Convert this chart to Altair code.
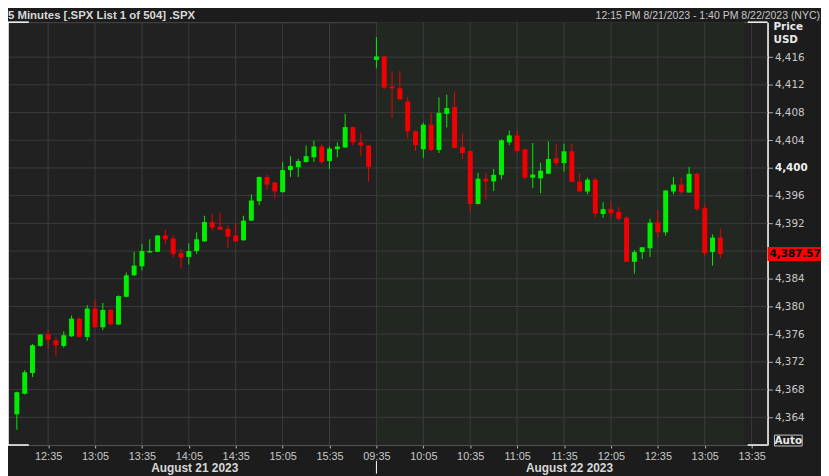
import altair as alt
import pandas as pd

# ---------------- data ----------------
opens = [4364.45, 4367.4, 4370.4, 4374.3, 4376.0, 4375.1, 4374.3, 4375.7, 4378.25, 4375.6,
         4379.7, 4377.0, 4379.5, 4377.4, 4381.4, 4384.5, 4385.8, 4387.8, 4387.9, 4390.25,
         4389.8, 4387.7, 4387.15, 4388.0, 4389.4, 4392.2, 4391.5, 4391.2, 4390.25, 4389.55,
         4392.4, 4395.2, 4398.7, 4397.9, 4396.5, 4399.7, 4400.1, 4400.85, 4401.55, 4403.1,
         4401.0, 4402.7, 4402.95, 4405.9, 4403.7, 4403.25,
         4415.6, 4416.1, 4411.75, 4411.5, 4409.6, 4405.3, 4402.7, 4406.25, 4402.6, 4407.8,
         4408.8, 4403.0, 4402.45, 4394.8, 4398.45, 4398.05, 4399.0, 4403.7, 4404.7, 4402.7,
         4398.6, 4398.5, 4399.15, 4401.4, 4400.7, 4402.4, 4398.0, 4396.6, 4398.3, 4393.35,
         4394.05, 4393.65, 4392.8, 4386.45, 4387.85, 4388.4, 4392.2, 4390.7, 4396.6, 4397.6,
         4396.45, 4399.15, 4394.2, 4387.85, 4389.95]
highs = [4367.7, 4370.8, 4374.6, 4376.0, 4376.7, 4375.6, 4376.4, 4378.7, 4378.4, 4380.2,
         4380.95, 4380.5, 4379.66, 4381.6, 4384.9, 4387.9, 4389.0, 4389.7, 4390.3, 4391.1,
         4390.25, 4388.3, 4389.1, 4390.7, 4393.1, 4393.4, 4393.55, 4391.7, 4391.95, 4393.1,
         4396.2, 4398.75, 4399.0, 4397.95, 4400.85, 4401.7, 4401.3, 4403.25, 4403.95, 4403.5,
         4403.1, 4403.7, 4407.8, 4405.95, 4405.1, 4403.3,
         4418.9, 4416.15, 4413.9, 4414.0, 4410.2, 4405.4, 4406.55, 4407.95, 4410.2, 4410.6,
         4411.05, 4405.0, 4402.5, 4399.3, 4399.3, 4399.85, 4404.15, 4405.4, 4405.4, 4402.75,
         4403.6, 4400.75, 4403.85, 4403.4, 4403.5, 4403.5, 4399.3, 4398.6, 4398.6, 4395.05,
         4395.2, 4394.35, 4393.1, 4388.15, 4388.55, 4392.65, 4393.9, 4396.75, 4398.7, 4398.6,
         4400.15, 4399.3, 4394.75, 4390.4, 4391.25]
lows = [4362.2, 4367.3, 4369.8, 4374.2, 4373.9, 4372.9, 4374.05, 4375.6, 4375.55, 4375.05,
        4376.95, 4376.6, 4377.2, 4377.3, 4381.3, 4384.4, 4385.2, 4387.75, 4387.85, 4389.0,
        4387.05, 4385.5, 4386.05, 4387.6, 4389.35, 4391.0, 4391.05, 4388.45, 4389.35, 4389.5,
        4392.35, 4394.6, 4396.9, 4395.6, 4396.45, 4398.7, 4398.7, 4400.8, 4400.85, 4400.55,
        4399.85, 4401.55, 4402.9, 4403.25, 4401.7, 4398.0,
        4414.4, 4411.35, 4407.2, 4409.85, 4404.3, 4402.45, 4401.45, 4402.45, 4402.15, 4405.85,
        4402.85, 4401.3, 4393.7, 4394.75, 4395.4, 4396.65, 4398.35, 4403.3, 4402.15, 4398.35,
        4397.1, 4396.35, 4399.1, 4400.3, 4399.45, 4397.95, 4396.55, 4396.2, 4392.8, 4392.8,
        4392.8, 4392.4, 4386.4, 4384.75, 4386.85, 4387.15, 4389.95, 4390.25, 4396.2, 4396.2,
        4396.4, 4393.8, 4387.3, 4385.9, 4387.0]
closes = [4367.6, 4370.5, 4374.4, 4375.95, 4375.2, 4374.4, 4375.85, 4378.25, 4375.6, 4379.7,
          4377.0, 4379.5, 4377.45, 4381.5, 4384.5, 4385.9, 4388.0, 4388.0, 4390.25, 4389.7,
          4387.6, 4387.05, 4388.0, 4389.7, 4392.2, 4391.4, 4391.1, 4390.1, 4389.4, 4392.4,
          4395.3, 4398.7, 4397.6, 4396.6, 4399.7, 4400.3, 4401.0, 4401.7, 4403.1, 4400.85,
          4402.8, 4403.1, 4405.9, 4403.7, 4403.25, 4400.15,
          4416.1, 4411.6, 4411.5, 4409.9, 4405.3, 4403.3, 4406.25, 4402.6, 4407.95, 4408.65,
          4402.9, 4402.15, 4394.8, 4398.45, 4398.05, 4399.0, 4404.0, 4404.7, 4402.45, 4398.6,
          4399.05, 4399.6, 4401.3, 4400.7, 4402.4, 4398.0, 4396.6, 4398.3, 4393.4, 4394.05,
          4393.5, 4392.65, 4386.45, 4387.85, 4388.55, 4392.1, 4390.7, 4396.75, 4397.6, 4396.5,
          4399.15, 4394.05, 4387.7, 4389.95, 4387.57]

day_names = ["August 21 2023", "August 22 2023"]
day_start_slots = [0, 46]          # first candle slot of each session
tick_slots = [4, 10, 16, 22, 28, 34, 40, 46, 52, 58, 64, 70, 76, 82, 88, 94]
tick_labels = ["12:35", "13:05", "13:35", "14:05", "14:35", "15:05", "15:35",
               "09:35", "10:05", "10:35", "11:05", "11:35", "12:05", "12:35", "13:05", "13:35"]
y_ticks = [4364, 4368, 4372, 4376, 4380, 4384, 4388, 4392, 4396, 4400, 4404, 4408, 4412, 4416]
title_left = "5 Minutes [.SPX List 1 of 504] .SPX"
title_right = "12:15 PM 8/21/2023 - 1:40 PM 8/22/2023 (NYC)"

# ---------------- styling ----------------
W, H = 767, 427
XDOM = [-0.5, 95.4]
YDOM = [4360.0, 4421.05]
GREEN, RED = "#00ee00", "#f00000"
GRID = "#3c3c3c"
SANS = "Liberation Sans, Arial, sans-serif"
TXT = "#c8c8c8"

df = pd.DataFrame({"slot": list(range(len(opens))), "open": opens, "high": highs,
                   "low": lows, "close": closes})
df["dir"] = ["up" if c >= o else "down" for o, c in zip(opens, closes)]
last = df.tail(1).copy()
last["lbl"] = [f"{v:,.2f}" for v in last["close"]]
last_close = closes[-1]

bounds = [XDOM[0]] + day_start_slots[1:] + [XDOM[1]]
days = pd.DataFrame({"name": day_names,
                     "mid": [(bounds[i] + bounds[i + 1]) / 2 for i in range(len(day_names))]})
sep = pd.DataFrame({"slot": day_start_slots[1:]})
band = pd.DataFrame({"x0": [day_start_slots[1]], "x1": [93]})
vgrid = pd.DataFrame({"slot": tick_slots})
hgrid = pd.DataFrame({"price": y_ticks})

xscale = alt.Scale(domain=XDOM, nice=False, zero=False)
yscale = alt.Scale(domain=YDOM, nice=False, zero=False)

expr = "''"
for s, l in reversed(list(zip(tick_slots, tick_labels))):
    expr = f"datum.value == {s} ? '{l}' : ({expr})"

yexpr = f"abs(datum.value - {last_close}) < 1.2 ? '' : format(datum.value, ',')"

xaxis = alt.Axis(values=tick_slots, labelExpr=expr, grid=False,
                 domain=True, domainColor="#555555", ticks=True, tickSize=3, tickColor="#bbbbbb",
                 labelColor=TXT, labelFont=SANS, labelFontSize=11, labelPadding=3,
                 labelFlush=False, labelOverlap=False, title=None)
yaxis = alt.Axis(orient="right", values=y_ticks, labelExpr=yexpr, grid=False,
                 domain=True, domainColor="#ffffff", domainWidth=1.5,
                 ticks=True, tickSize=5, tickColor="#aaaaaa",
                 labelColor={"condition": {"test": "datum.value == 4400", "value": "#f0f0f0"},
                             "value": TXT},
                 labelFontWeight={"condition": {"test": "datum.value == 4400", "value": "bold"},
                                  "value": "normal"},
                 labelFont="DejaVu Sans", labelFontSize=10.5, labelPadding=2,
                 labelOverlap=False, title=None)


def X(field):
    return alt.X(field, scale=xscale, axis=xaxis, title=None)


def Y(field):
    return alt.Y(field, scale=yscale, axis=yaxis, title=None)


color = alt.Color("dir:N", scale=alt.Scale(domain=["up", "down"], range=[GREEN, RED]), legend=None)

tint = alt.Chart(band).mark_rect(color="#222722").encode(
    x=X("x0:Q"), x2="x1:Q", y=alt.value(0), y2=alt.value(H))

grid_v = alt.Chart(vgrid).mark_rule(color=GRID, strokeWidth=1).encode(
    x=X("slot:Q"), y=alt.value(0), y2=alt.value(H))
grid_h = alt.Chart(hgrid).mark_rule(color=GRID, strokeWidth=1).encode(
    y=Y("price:Q"), x=alt.value(0), x2=alt.value(W))

wicks = alt.Chart(df).mark_rule(strokeWidth=1).encode(
    x=X("slot:Q"), y=Y("low:Q"), y2="high:Q", color=color)

bodies = alt.Chart(df).mark_bar(size=5).encode(
    x=X("slot:Q"), y=Y("open:Q"), y2="close:Q", color=color)

# frame decorations
one = pd.DataFrame({"k": [0]})
left_edge = alt.Chart(one).mark_rule(color="#ffffff", strokeWidth=1.5).encode(
    x=alt.value(0), y=alt.value(0), y2=alt.value(H))
corners = [
    alt.Chart(one).mark_rule(color="#ffffff", strokeWidth=1.5).encode(
        x=alt.value(x0), x2=alt.value(x1), y=alt.value(yy))
    for (x0, x1, yy) in [(0, 21, 0), (W - 20, W, 0), (0, 21, H), (W - 20, W, H)]
]

sep_rule = alt.Chart(sep).mark_rule(color="#ffffff", strokeWidth=1).encode(
    x=X("slot:Q"), y=alt.value(H + 16), y2=alt.value(H + 29))

day_text = alt.Chart(days).mark_text(font=SANS, fontSize=12, fontWeight="bold",
                                     color="#d8d8d8", baseline="middle").encode(
    x=X("mid:Q"), y=alt.value(H + 23.5), text="name:N")

t_left = alt.Chart(pd.DataFrame({"t": [title_left]})).mark_text(
    font=SANS, fontSize=11.5, fontWeight="bold", color="#d8d8d8", align="left",
    baseline="middle").encode(x=alt.value(0), y=alt.value(-6), text="t:N")
t_right = alt.Chart(pd.DataFrame({"t": [title_right]})).mark_text(
    font=SANS, fontSize=10.6, color=TXT, align="right",
    baseline="middle").encode(x=alt.value(820), y=alt.value(-6.5), text="t:N")

unit_price = alt.Chart(pd.DataFrame({"t": ["Price"]})).mark_text(
    font="DejaVu Sans", fontSize=10.5, fontWeight="bold", color="#e8e8e8", align="left",
    baseline="middle").encode(x=alt.value(773), y=alt.value(4.5), text="t:N")
unit_usd = alt.Chart(pd.DataFrame({"t": ["USD"]})).mark_text(
    font="DejaVu Sans", fontSize=10.5, fontWeight="bold", color="#e8e8e8", align="left",
    baseline="middle").encode(x=alt.value(773), y=alt.value(18.5), text="t:N")

price_box = alt.Chart(last).mark_rule(color="#ff0000", strokeWidth=14, strokeCap="butt").encode(
    x=alt.value(W), x2=alt.value(W + 56), y=Y("close:Q"))
price_lbl = alt.Chart(last).mark_text(font="DejaVu Sans", fontSize=10.5, fontWeight="bold",
                                      color="#000000", align="left", baseline="middle").encode(
    x=alt.value(W + 2), y=Y("close:Q"), text="lbl:N")

auto_box = alt.Chart(one).mark_rect(fill="#1c1c1c", stroke="#c8c8c8", strokeWidth=1).encode(
    x=alt.value(W + 7), x2=alt.value(W + 35), y=alt.value(H - 10), y2=alt.value(H + 1))
auto_txt = alt.Chart(pd.DataFrame({"t": ["Auto"]})).mark_text(
    font="DejaVu Sans", fontSize=10.5, fontWeight="bold", color="#e8e8e8", align="center",
    baseline="middle").encode(x=alt.value(W + 21), y=alt.value(H - 4.5), text="t:N")

chart = alt.layer(
    tint, grid_v, grid_h, wicks, bodies, left_edge, *corners, sep_rule, day_text, t_left,
    t_right, unit_price, unit_usd, price_box, price_lbl, auto_box, auto_txt
).properties(
    width=W, height=H, autosize="none",
    padding={"left": 0, "top": 12, "right": 54, "bottom": 29},
    background="#1c1c1c",
).configure_view(fill="#212121", stroke="#4a4a4a", strokeWidth=1)

chart.save("out.html", embed_options={"renderer": "svg", "actions": False})
